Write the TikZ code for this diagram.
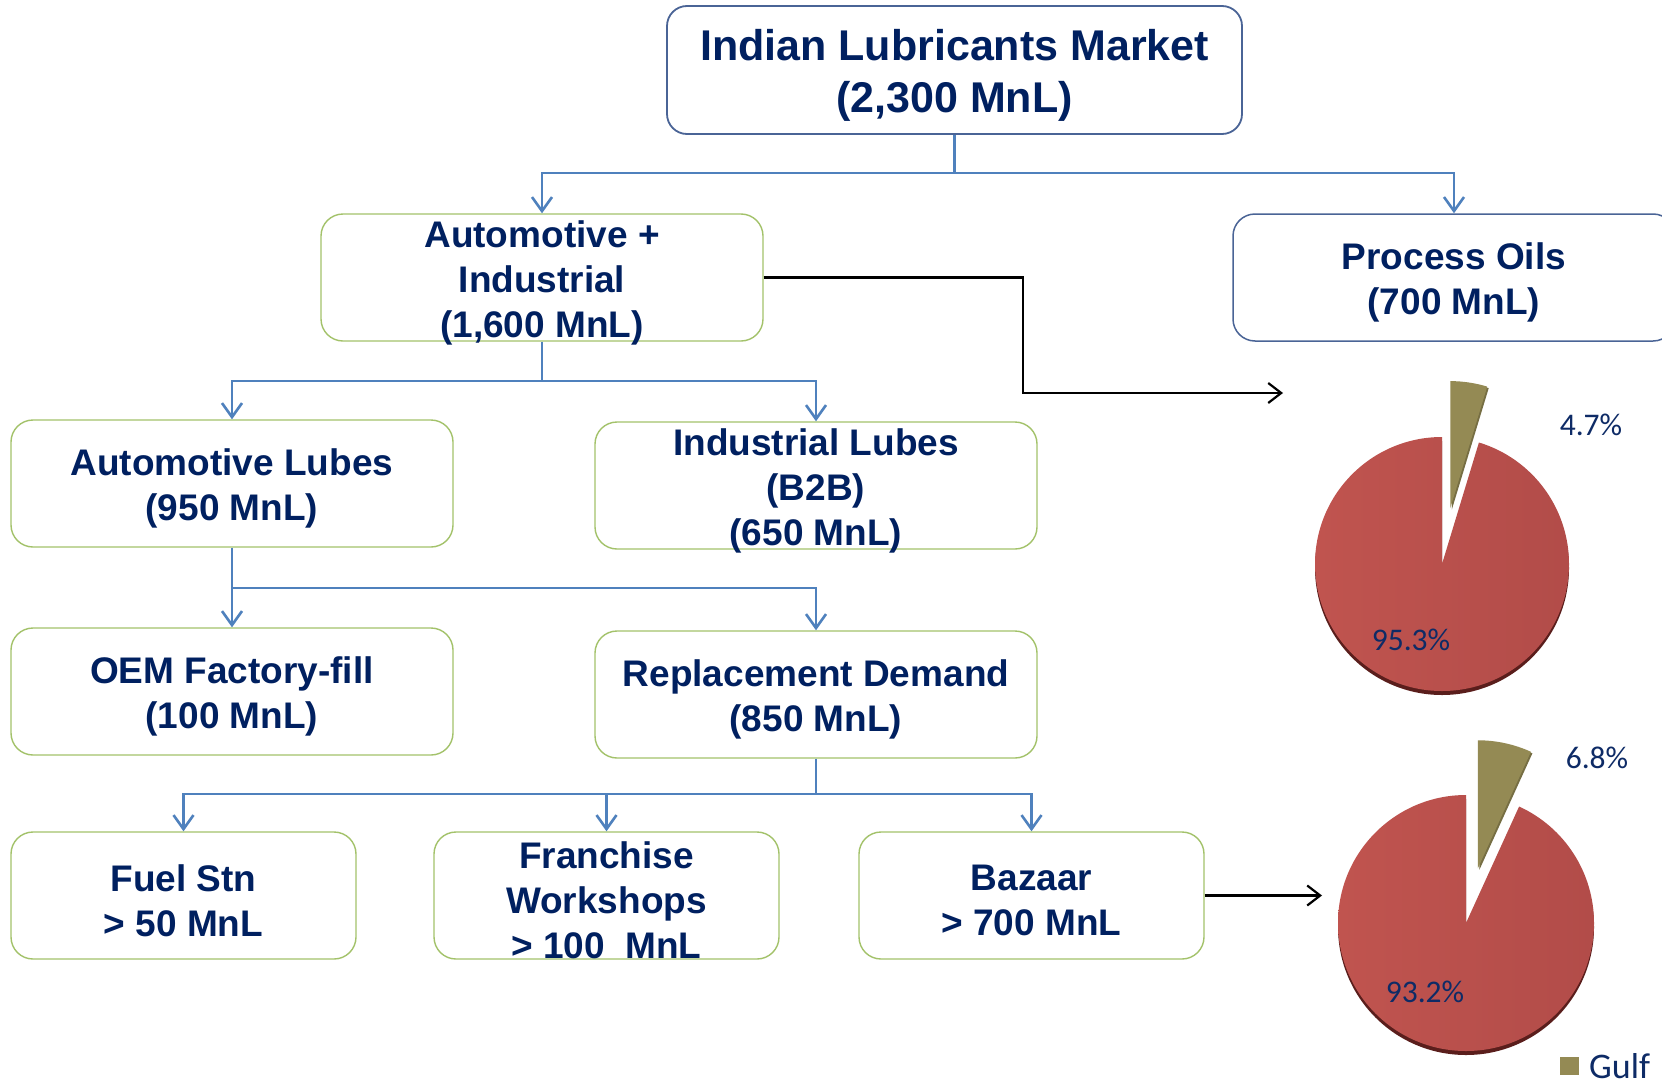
\documentclass[tikz,border=0pt]{standalone}
\usepackage{fontspec}
\setmainfont{Liberation Sans}
\newfontfamily\calfont{Carlito}
\usetikzlibrary{arrows.meta,calc}
\definecolor{navy}{HTML}{002060}
\definecolor{conblue}{HTML}{4F81BD}
\definecolor{boxgreen}{HTML}{A3C26A}
\definecolor{topborder}{HTML}{4A6496}
\definecolor{piered}{HTML}{C0544F}
\definecolor{pieredR}{HTML}{B24C49}
\definecolor{pieshadow}{HTML}{5A1E1C}
\definecolor{gulf}{HTML}{948A54}
\definecolor{pctnavy}{HTML}{0E2B66}
\begin{document}
\begin{tikzpicture}[x=1pt,y=1pt,
  bx/.style={draw=boxgreen, line width=1.4pt, rounded corners=22pt, fill=white, inner sep=0pt, minimum height=127pt},
  tx/.style={text=navy, font=\bfseries\fontsize{37}{45}\selectfont, align=center, inner sep=0pt, yshift=-5pt},
  conn/.style={draw=conblue, line width=2.6pt},
  arr/.style={conn, -{Straight Barb[length=14pt,width=20pt]}},
  blk/.style={draw=black, line width=2.2pt, -{Straight Barb[length=13pt,width=20pt]}},
  pct/.style={text=pctnavy, font=\calfont\fontsize{31.5}{32}\selectfont, inner sep=0pt, anchor=base}
]
\fill[white] (0,-1084) rectangle (1662,0);
\useasboundingbox (0,-1084) rectangle (1662,0);

% boxes
\node[bx, draw=topborder, line width=1.8pt, rounded corners=20pt, minimum width=575pt, minimum height=128pt] (top) at (954.5,-70) {};
\node[tx, font=\bfseries\fontsize{43}{52}\selectfont] (toptx) at (top) {Indian Lubricants Market\\(2,300 MnL)};

\node[bx, minimum width=442pt] (autoind) at (542,-277.5) {};
\node[tx] (autoindtx) at (autoind) {Automotive +\\Industrial\\(1,600 MnL)};

\node[bx, draw=topborder, line width=1.5pt, minimum width=442pt] (proc) at (1454,-277.5) {};
\node[tx] (proctx) at (proc) {Process Oils\\(700 MnL)};

\node[bx, minimum width=442pt] (autolubes) at (232,-483.5) {};
\node[tx] (autolubestx) at (autolubes) {Automotive Lubes\\(950 MnL)};

\node[bx, minimum width=442pt] (indlubes) at (816,-485.5) {};
\node[tx] (indlubestx) at (indlubes) {Industrial Lubes\\(B2B)\\(650 MnL)};

\node[bx, minimum width=442pt] (oem) at (232,-691.5) {};
\node[tx] (oemtx) at (oem) {OEM Factory-fill\\(100 MnL)};

\node[bx, minimum width=442pt] (repl) at (816,-694.5) {};
\node[tx] (repltx) at (repl) {Replacement Demand\\(850 MnL)};

\node[bx, minimum width=345pt] (fuel) at (183.5,-895.5) {};
\node[tx] (fueltx) at (fuel) {Fuel Stn\\> 50 MnL};

\node[bx, minimum width=345pt] (fran) at (606.5,-895.5) {};
\node[tx] (frantx) at (fran) {Franchise\\Workshops\\> 100~~MnL};

\node[bx, minimum width=345pt] (baz) at (1031.5,-895.5) {};
\node[tx] (baztx) at (baz) {Bazaar\\> 700 MnL};

% blue connectors
\coordinate (j1) at (954.5,-173);
\draw[conn] (top.south) -- (j1);
\draw[arr] (j1) -| (autoind.north);
\draw[arr] (j1) -| (proc.north);

\coordinate (j2) at (542,-381);
\draw[conn] (autoind.south) -- (j2);
\draw[arr] (j2) -| (autolubes.north);
\draw[arr] (j2) -| (indlubes.north);

\coordinate (j3) at (232,-588);
\draw[conn] (autolubes.south) -- (j3);
\draw[arr] (j3) -| (oem.north);
\draw[arr] (j3) -| (repl.north);

\coordinate (j4) at (816,-794);
\draw[conn] (repl.south) -- (j4);
\draw[arr] (j4) -| (fuel.north);
\draw[arr] (j4) -| (fran.north);
\draw[arr] (j4) -| (baz.north);

% black connectors
\coordinate (p1) at (1283,-393);
\draw[blk] (autoind.east) -| (1023,-393) -- (p1);
\coordinate (p2) at (1322,-895.5);
\draw[blk] (baz.east) -- (p2);

% pie 1
\coordinate (c1) at (1442,-564);
\fill[pieshadow] (c1) ++(0,-4) -- ++(0,127) arc[start angle=90, end angle=433.1, radius=127] -- cycle;
\shade[left color=piered, right color=pieredR] (c1) -- ++(0,127) arc[start angle=90, end angle=433.1, radius=127] -- cycle;
\coordinate (g1) at ($(c1)+(81.55:56.5)$);
\fill[gulf!80!black] (g1) ++(1.5,-1.5) -- ++(73.1:127) arc[start angle=73.1, end angle=90, radius=127] -- cycle;
\fill[gulf] (g1) -- ++(73.1:127) arc[start angle=73.1, end angle=90, radius=127] -- cycle;
\node[pct] (l47) at (1591,-435) {4.7\%};
\node[pct] (l953) at (1411,-650) {95.3\%};

% pie 2
\coordinate (c2) at (1466,-923);
\fill[pieshadow] (c2) ++(0,-4) -- ++(0,128) arc[start angle=90, end angle=425.5, radius=128] -- cycle;
\shade[left color=piered, right color=pieredR] (c2) -- ++(0,128) arc[start angle=90, end angle=425.5, radius=128] -- cycle;
\coordinate (g2) at ($(c2)+(77.76:56)$);
\fill[gulf!80!black] (g2) ++(1.5,-1.5) -- ++(65.52:128) arc[start angle=65.52, end angle=90, radius=128] -- cycle;
\fill[gulf] (g2) -- ++(65.52:128) arc[start angle=65.52, end angle=90, radius=128] -- cycle;
\node[pct] (l68) at (1597,-768) {6.8\%};
\node[pct] (l932) at (1425,-1002) {93.2\%};

% legend
\fill[gulf] (1560,-1057) rectangle (1579,-1075);
\node[text=pctnavy, font=\calfont\fontsize{36}{36}\selectfont, inner sep=0pt, anchor=base west] (gulflbl) at (1589,-1078) {Gulf};
\end{tikzpicture}
\end{document}
